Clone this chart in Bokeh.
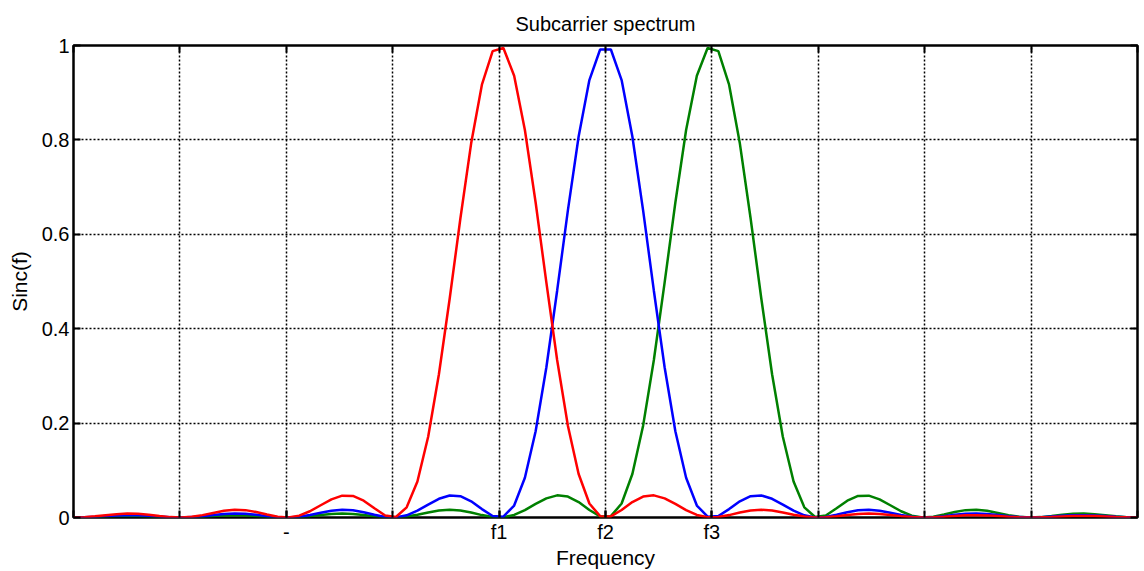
from bokeh.plotting import figure
from bokeh.models import Range1d, FixedTicker, LinearAxis
from bokeh.embed import file_html
from bokeh.resources import INLINE

# ---- data ----
freq = [-4.0, -3.8990, -3.7980, -3.6970, -3.5960, -3.4949, -3.3939, -3.2929, -3.1919, -3.0909,
        -2.9899, -2.8889, -2.7879, -2.6869, -2.5859, -2.4848, -2.3838, -2.2828, -2.1818, -2.0808,
        -1.9798, -1.8788, -1.7778, -1.6768, -1.5758, -1.4747, -1.3737, -1.2727, -1.1717, -1.0707,
        -0.9697, -0.8687, -0.7677, -0.6667, -0.5657, -0.4646, -0.3636, -0.2626, -0.1616, -0.0606,
        0.0404, 0.1414, 0.2424, 0.3434, 0.4444, 0.5455, 0.6465, 0.7475, 0.8485, 0.9495,
        1.0505, 1.1515, 1.2525, 1.3535, 1.4545, 1.5556, 1.6566, 1.7576, 1.8586, 1.9596,
        2.0606, 2.1616, 2.2626, 2.3636, 2.4646, 2.5657, 2.6667, 2.7677, 2.8687, 2.9697,
        3.0707, 3.1717, 3.2727, 3.3737, 3.4747, 3.5758, 3.6768, 3.7778, 3.8788, 3.9798,
        4.0808, 4.1818, 4.2828, 4.3838, 4.4848, 4.5859, 4.6869, 4.7879, 4.8889, 4.9899,
        5.0909, 5.1919, 5.2929, 5.3939, 5.4949, 5.5960, 5.6970, 5.7980, 5.8990, 6.0]

sinc_f1 = [0.0, 0.0006, 0.0025, 0.0049, 0.0071, 0.0083, 0.0079, 0.0059, 0.0032, 0.0008,
           0.0000, 0.0014, 0.0050, 0.0097, 0.0141, 0.0164, 0.0156, 0.0117, 0.0062, 0.0015,
           0.0001, 0.0040, 0.0132, 0.0260, 0.0385, 0.0463, 0.0457, 0.0357, 0.0195, 0.0043,
           0.0010, 0.0216, 0.0764, 0.1710, 0.3034, 0.4635, 0.6340, 0.7927, 0.9170, 0.9880,
           0.9947, 0.9359, 0.8210, 0.6674, 0.4975, 0.3337, 0.1946, 0.0921, 0.0296, 0.0028,
           0.0023, 0.0160, 0.0328, 0.0444, 0.0469, 0.0406, 0.0287, 0.0156, 0.0054, 0.0004,
           0.0009, 0.0051, 0.0107, 0.0150, 0.0165, 0.0147, 0.0107, 0.0059, 0.0020, 0.0001,
           0.0005, 0.0027, 0.0054, 0.0076, 0.0083, 0.0075, 0.0054, 0.0029, 0.0009, 0.0000,
           0.0004, 0.0017, 0.0033, 0.0046, 0.0050, 0.0045, 0.0032, 0.0017, 0.0005, 0.0000,
           0.0003, 0.0012, 0.0023, 0.0031, 0.0034, 0.0030, 0.0021, 0.0011, 0.0003, 0.0]

sinc_f2 = [0.0, 0.0004, 0.0015, 0.0030, 0.0044, 0.0050, 0.0047, 0.0035, 0.0019, 0.0005,
           0.0000, 0.0008, 0.0027, 0.0052, 0.0073, 0.0083, 0.0077, 0.0057, 0.0029, 0.0007,
           0.0000, 0.0017, 0.0054, 0.0102, 0.0144, 0.0164, 0.0153, 0.0112, 0.0057, 0.0011,
           0.0002, 0.0047, 0.0144, 0.0274, 0.0396, 0.0467, 0.0451, 0.0343, 0.0178, 0.0032,
           0.0018, 0.0254, 0.0841, 0.1826, 0.3184, 0.4805, 0.6508, 0.8071, 0.9267, 0.9916,
           0.9916, 0.9267, 0.8071, 0.6508, 0.4805, 0.3184, 0.1826, 0.0841, 0.0254, 0.0018,
           0.0032, 0.0178, 0.0343, 0.0451, 0.0467, 0.0396, 0.0274, 0.0144, 0.0047, 0.0002,
           0.0011, 0.0057, 0.0112, 0.0153, 0.0164, 0.0144, 0.0102, 0.0054, 0.0017, 0.0000,
           0.0007, 0.0029, 0.0057, 0.0077, 0.0083, 0.0073, 0.0052, 0.0027, 0.0008, 0.0000,
           0.0005, 0.0019, 0.0035, 0.0047, 0.0050, 0.0044, 0.0030, 0.0015, 0.0004, 0.0]

sinc_f3 = [0.0, 0.0003, 0.0011, 0.0021, 0.0030, 0.0034, 0.0031, 0.0023, 0.0012, 0.0003,
           0.0000, 0.0005, 0.0017, 0.0032, 0.0045, 0.0050, 0.0046, 0.0033, 0.0017, 0.0004,
           0.0000, 0.0009, 0.0029, 0.0054, 0.0075, 0.0083, 0.0076, 0.0054, 0.0027, 0.0005,
           0.0001, 0.0020, 0.0059, 0.0107, 0.0147, 0.0165, 0.0150, 0.0107, 0.0051, 0.0009,
           0.0004, 0.0054, 0.0156, 0.0287, 0.0406, 0.0469, 0.0444, 0.0328, 0.0160, 0.0023,
           0.0028, 0.0296, 0.0921, 0.1946, 0.3337, 0.4975, 0.6674, 0.8210, 0.9359, 0.9947,
           0.9880, 0.9170, 0.7927, 0.6340, 0.4635, 0.3034, 0.1710, 0.0764, 0.0216, 0.0010,
           0.0043, 0.0195, 0.0357, 0.0457, 0.0463, 0.0385, 0.0260, 0.0132, 0.0040, 0.0001,
           0.0015, 0.0062, 0.0117, 0.0156, 0.0164, 0.0141, 0.0097, 0.0050, 0.0014, 0.0000,
           0.0008, 0.0032, 0.0059, 0.0079, 0.0083, 0.0071, 0.0049, 0.0025, 0.0006, 0.0]

x_grid = [-4, -3, -2, -1, 0, 1, 2, 3, 4, 5, 6]
x_label_ticks = [-2, 0, 1, 2]
x_tick_labels = ["-", "f1", "f2", "f3"]
y_ticks = [0, 0.2, 0.4, 0.6, 0.8, 1]
y_tick_labels = ["0", "0.2", "0.4", "0.6", "0.8", "1"]

FONT = "Liberation Sans"

p = figure(width=1144, height=571, output_backend="svg", toolbar_location=None,
           x_range=Range1d(-4, 6), y_range=Range1d(0, 1),
           min_border_left=73, min_border_right=7, min_border_top=45, min_border_bottom=51)

p.background_fill_color = "white"
p.border_fill_color = "white"
p.outline_line_color = "black"
p.outline_line_width = 2.5
p.outline_line_alpha = 1.0

p.title.text = "Subcarrier spectrum"
p.title.text_font = FONT
p.title.text_font_size = "20px"
p.title.text_font_style = "normal"
p.title.align = "center"
p.title.text_color = "black"
p.title.standoff = 21

for g, t in ((p.xgrid, x_grid), (p.ygrid, y_ticks)):
    g.ticker = FixedTicker(ticks=t)
    g.grid_line_color = "black"
    g.grid_line_dash = "2 2"
    g.grid_line_width = 1.5
    g.grid_line_alpha = 1.0

xa = p.xaxis[0]
xa.ticker = FixedTicker(ticks=x_label_ticks, minor_ticks=x_grid)
xa.major_label_overrides = dict(zip(x_label_ticks, x_tick_labels))
xa.axis_label = "Frequency"
ya = p.yaxis[0]
ya.ticker = FixedTicker(ticks=y_ticks)
ya.major_label_overrides = dict(zip(y_ticks, y_tick_labels))
ya.axis_label = "Sinc(f)"

for ax in (xa, ya):
    ax.axis_line_color = None
    ax.major_tick_in = 7
    ax.major_tick_out = 0
    ax.major_tick_line_width = 2
    ax.major_tick_line_color = "black"
    ax.minor_tick_in = 7
    ax.minor_tick_out = 0
    ax.minor_tick_line_width = 2
    ax.minor_tick_line_color = "black"
    ax.major_label_text_font = FONT
    ax.major_label_text_font_size = "20px"
    ax.major_label_text_color = "black"
    ax.axis_label_text_font = FONT
    ax.axis_label_text_font_size = "21px"
    ax.axis_label_text_font_style = "normal"
    ax.axis_label_text_color = "black"
ya.minor_tick_line_color = None
xa.major_label_standoff = 3
xa.axis_label_standoff = 0
ya.major_label_standoff = 4
ya.axis_label_standoff = 8

top = LinearAxis(ticker=FixedTicker(ticks=[], minor_ticks=x_grid), axis_line_color=None,
                 major_tick_line_color=None, major_tick_out=0,
                 minor_tick_in=7, minor_tick_out=0,
                 minor_tick_line_width=2, minor_tick_line_color="black",
                 major_label_standoff=0, axis_label_standoff=0)
right = LinearAxis(ticker=FixedTicker(ticks=[], minor_ticks=y_ticks), axis_line_color=None,
                   major_tick_line_color=None, major_tick_out=0,
                   minor_tick_in=7, minor_tick_out=0,
                   minor_tick_line_width=2, minor_tick_line_color="black",
                   major_label_standoff=0, axis_label_standoff=0)
p.add_layout(top, "above")
p.add_layout(right, "right")

p.line(freq, sinc_f3, line_color="#008000", line_width=2.5)
p.line(freq, sinc_f2, line_color="#0000ff", line_width=2.5)
p.line(freq, sinc_f1, line_color="#ff0000", line_width=2.5)

open("out.html", "w").write(file_html(p, INLINE))
